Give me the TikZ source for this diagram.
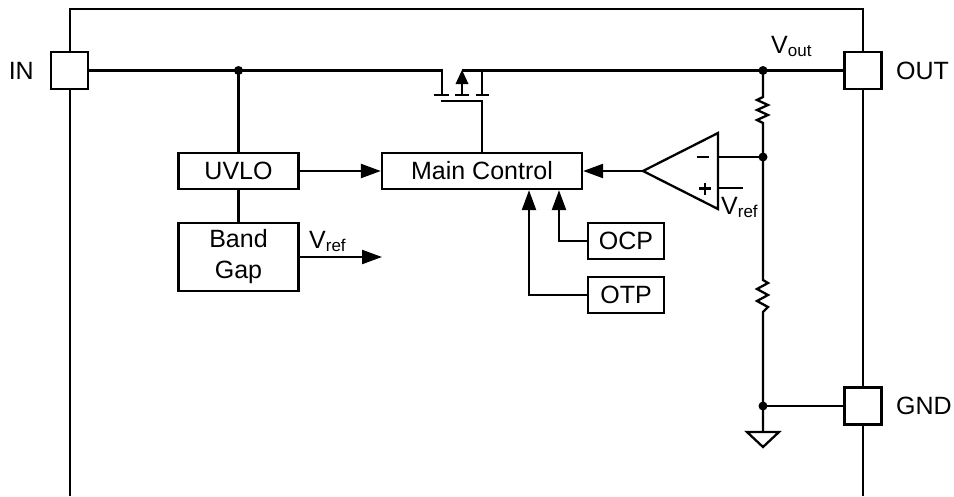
\documentclass[tikz,border=0pt]{standalone}
\usepackage{fontspec}
\setmainfont{Liberation Sans}
\usetikzlibrary{arrows.meta,calc}
\newcommand\sbs[1]{\raisebox{-3.5pt}{\fontsize{17}{17}\selectfont #1}}
\begin{document}
\begin{tikzpicture}[x=1pt,y=-1pt,
  wire/.style={line width=2.3pt},
  blk/.style={draw,line width=2.3pt,fill=white,minimum height=36pt,inner sep=0pt,font=\fontsize{25}{29}\selectfont},
  pin/.style={draw,line width=2.3pt,fill=white,minimum width=37pt,minimum height=37pt,inner sep=0pt},
  lbl/.style={font=\fontsize{25}{29}\selectfont,inner sep=0pt},
  arr/.style={wire,-{Triangle[length=20pt,width=14pt]}},
  jdot/.style={circle,fill,inner sep=0pt,minimum size=9pt}]
\useasboundingbox (0,0) rectangle (954,496);
% outer frame
\draw[wire] (70,496) -- (70,9) -- (863,9) -- (863,496);
% pins
\node[pin] (in) at (69.5,70.5) {};
\node[pin] (out) at (863,70.5) {};
\node[pin] (gnd) at (863,406) {};
\node[lbl,anchor=east] (inl) at (34,70.5) {IN};
\node[lbl,anchor=west] (outl) at (896,70.5) {OUT};
\node[lbl,anchor=west] (gndl) at (896,406) {GND};
% blocks
\node[blk,minimum width=120pt] (uvlo) at (238.5,171) {UVLO};
\node[blk,minimum width=120pt,minimum height=68pt,align=center,font=\fontsize{25}{31}\selectfont] (bg) at (238.5,257) {Band\\Gap};
\node[blk,minimum width=200pt] (mc) at (482,171) {Main Control};
\node[blk,minimum width=76pt] (ocp) at (626,241) {OCP};
\node[blk,minimum width=76pt] (otp) at (626,295) {OTP};
% junctions
\coordinate (j1) at (238.5,70.5);
\coordinate (j3) at (763,70.5);
\coordinate (j2) at (763,157);
\coordinate (j4) at (763,406);
\coordinate (vrefend) at (382,257);
% MOSFET
\draw[wire] (in.east) -- (442,70.5) -- (442,95);
\draw[wire] (434,95) -- (449,95) (455,95) -- (469,95) (476,95) -- (489,95);
\draw[wire] (462,95) -- (462,82);
\fill (462,70) -- (455.5,84) -- (468.5,84) -- cycle;
\draw[wire] (462,70.5) -- (out.west);
\draw[wire] (482,95) -- (482,70.5);
\draw[wire] (mc.north) -- (482,101) -- (441,101);
% left side
\draw[wire] (j1) -- (uvlo.north);
\draw[wire] (uvlo.south) -- (bg.north);
\draw[arr] (uvlo.east) -- (mc.west);
\draw[arr] (bg.east) -- (vrefend);
\node[lbl,anchor=base west] (vref1) at (309,248) {V\sbs{ref}};
% OCP / OTP
\draw[arr] (ocp.west) -| ($(mc.south)+(77,0)$);
\draw[arr] (otp.west) -| ($(mc.south)+(47,0)$);
% op-amp
\coordinate (oa1) at (718,133);
\coordinate (oa2) at (718,209);
\coordinate (oao) at (643,171);
\draw[wire,line join=miter] (oa1) -- (oao) -- (oa2) -- cycle;
\draw[arr] (oao) -- (mc.east);
\draw[wire] (718,157) -- (j2);
\draw[wire] (718,188) -- (743,188);
\draw[wire] (697,157) -- (709,157);
\draw[wire] (699,188.5) -- (711,188.5) (705,182.5) -- (705,194.5);
\node[lbl,anchor=base west] (vref2) at (721,214) {V\sbs{ref}};
% divider
\draw[wire] (j3) -- (763,97) -- (757,100) -- (768,105) -- (757,110) -- (768,115) -- (757,120) -- (763,123) -- (j2)
  -- (763,280) -- (768,283) -- (757,289) -- (768,295) -- (757,301) -- (768,307) -- (763,312) -- (j4) -- (763,432);
\draw[wire] (j4) -- (gnd.west);
\draw[wire,line join=miter] (747,432) -- (779,432) -- (763,447) -- cycle;
\node[lbl,anchor=base west] (vout) at (771,53) {V\sbs{out}};
% dots
\foreach \j in {j1,j2,j3,j4} \node[jdot] at (\j) {};
\end{tikzpicture}
\end{document}
